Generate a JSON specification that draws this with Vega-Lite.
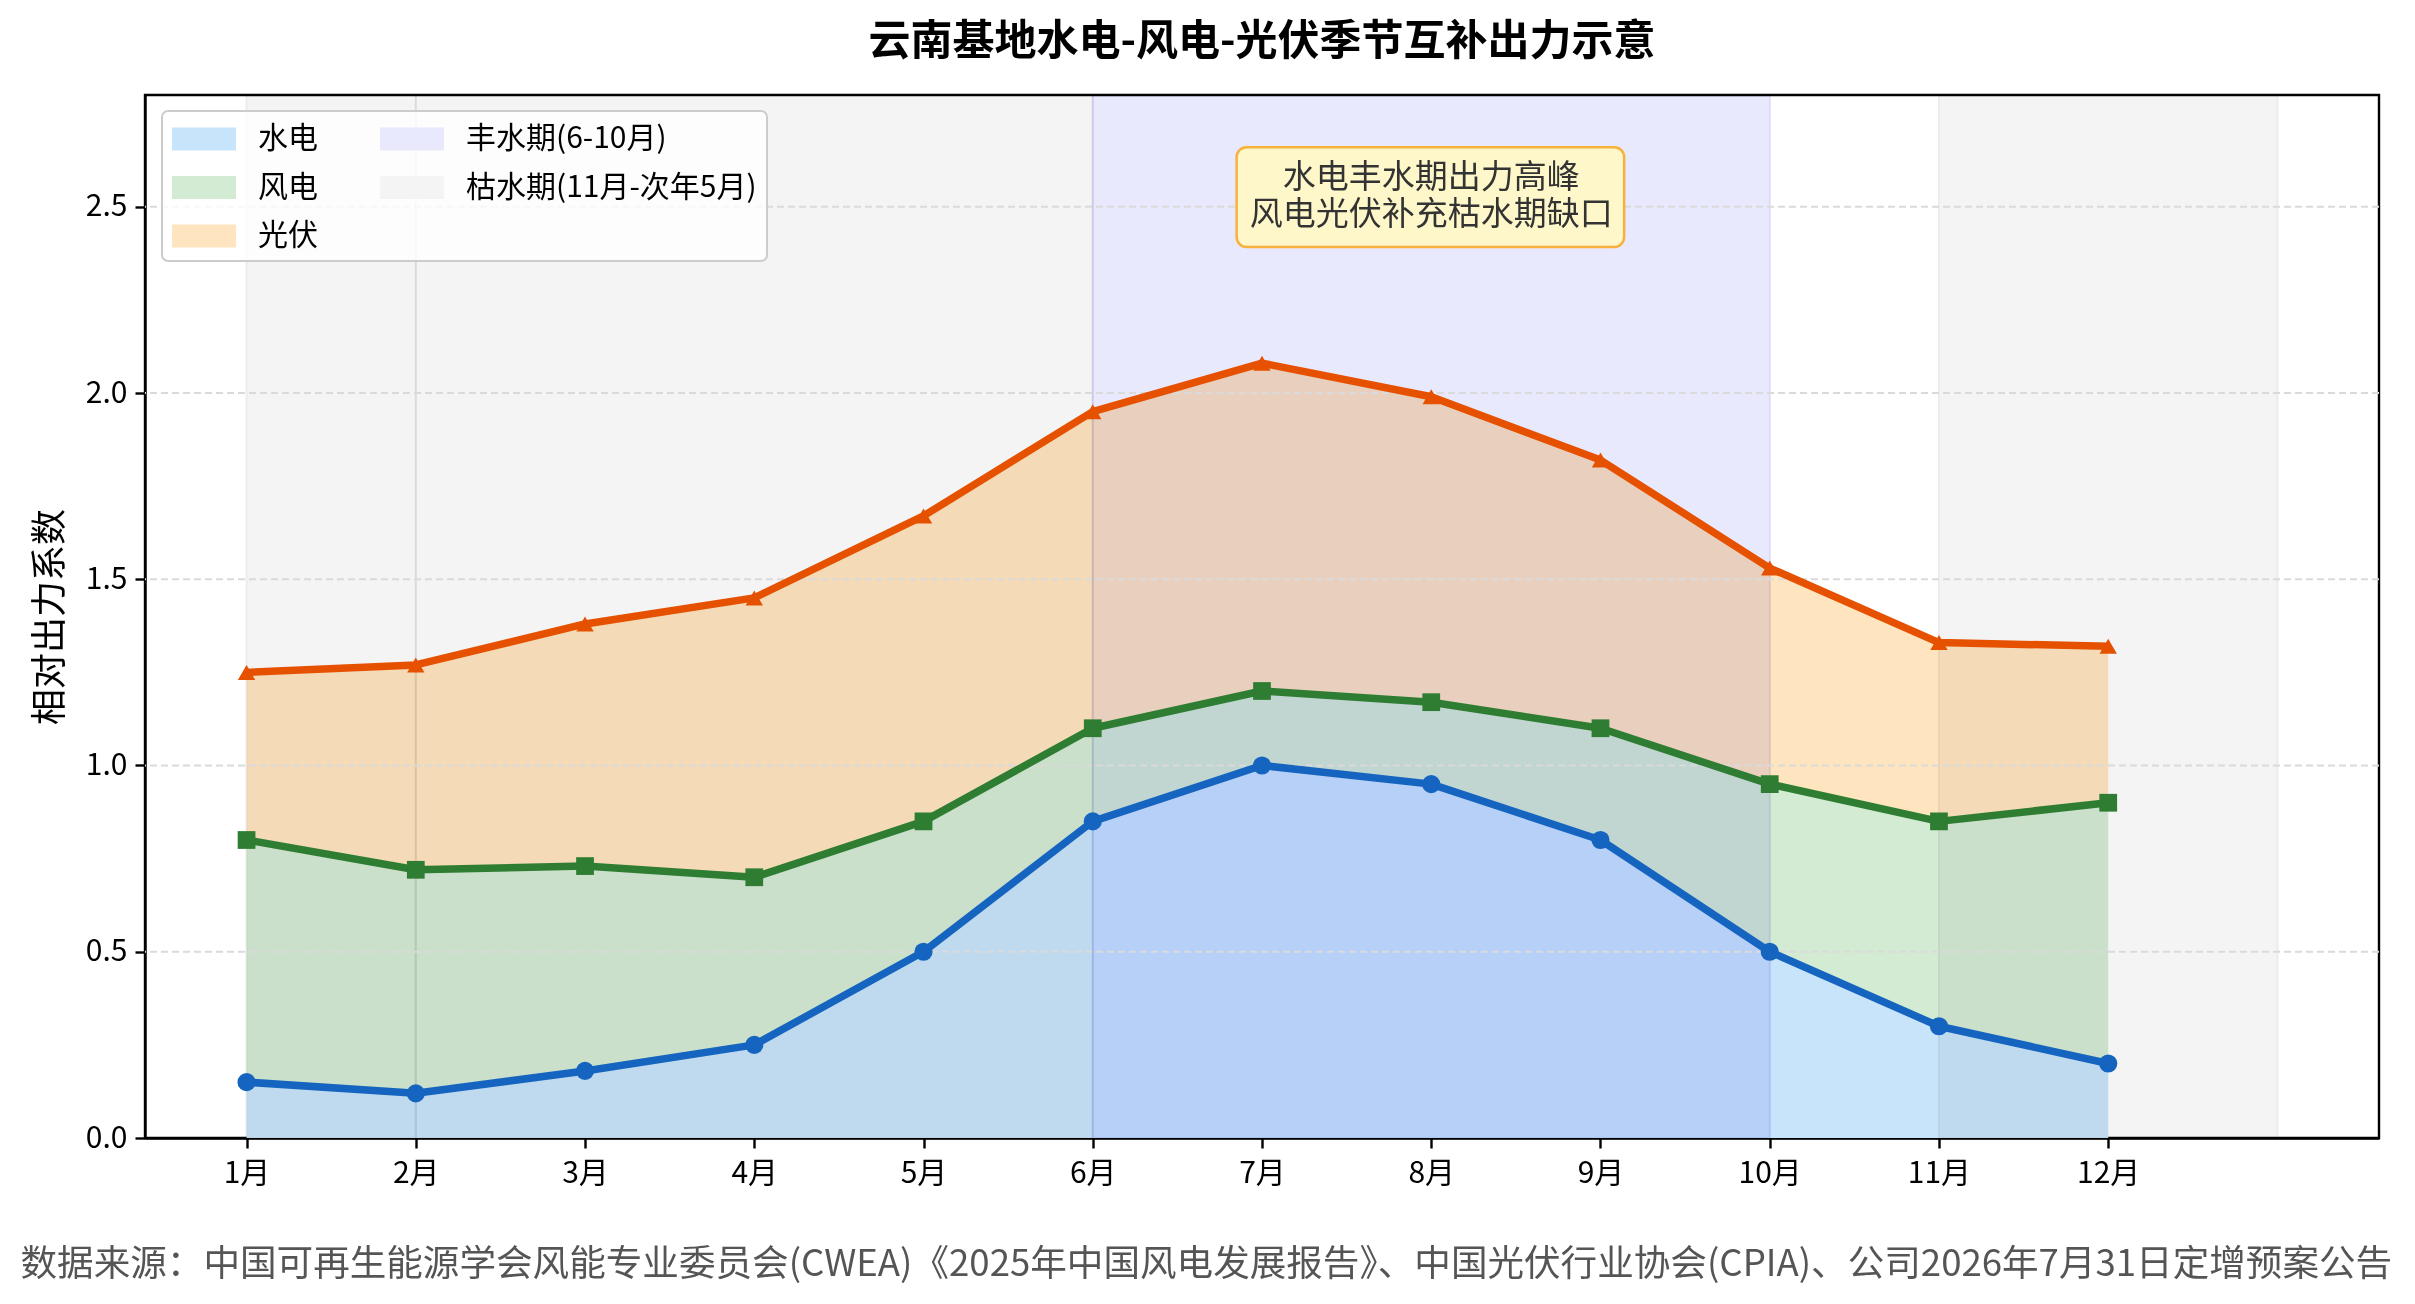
{
  "$schema": "https://vega.github.io/schema/vega-lite/v6.json",
  "description": "云南基地水电-风电-光伏季节互补出力示意",
  "width": 2234,
  "height": 1043,
  "autosize": {"type": "none"},
  "padding": {"left": 145, "top": 95, "right": 36, "bottom": 166},
  "background": "white",
  "title": {
    "text": "云南基地水电-风电-光伏季节互补出力示意",
    "fontSize": 42, "fontWeight": "bold", "color": "black",
    "anchor": "middle", "offset": 30
  },
  "datasets": {
    "出力": [
      {"月": 1, "水电": 0.15, "风电": 0.65, "光伏": 0.45},
      {"月": 2, "水电": 0.12, "风电": 0.60, "光伏": 0.55},
      {"月": 3, "水电": 0.18, "风电": 0.55, "光伏": 0.65},
      {"月": 4, "水电": 0.25, "风电": 0.45, "光伏": 0.75},
      {"月": 5, "水电": 0.50, "风电": 0.35, "光伏": 0.82},
      {"月": 6, "水电": 0.85, "风电": 0.25, "光伏": 0.85},
      {"月": 7, "水电": 1.00, "风电": 0.20, "光伏": 0.88},
      {"月": 8, "水电": 0.95, "风电": 0.22, "光伏": 0.82},
      {"月": 9, "水电": 0.80, "风电": 0.30, "光伏": 0.72},
      {"月": 10, "水电": 0.50, "风电": 0.45, "光伏": 0.58},
      {"月": 11, "水电": 0.30, "风电": 0.55, "光伏": 0.48},
      {"月": 12, "水电": 0.20, "风电": 0.70, "光伏": 0.42}
    ],
    "顺序": [
      {"能源": "水电", "层": 1},
      {"能源": "风电", "层": 2},
      {"能源": "光伏", "层": 3}
    ],
    "时期": [
      {"时期": "枯水期(11月-次年5月)", "起": 1, "止": 2},
      {"时期": "枯水期(11月-次年5月)", "起": 2, "止": 6},
      {"时期": "丰水期(6-10月)", "起": 6, "止": 10},
      {"时期": "枯水期(11月-次年5月)", "起": 11, "止": 13}
    ],
    "刻度": [
      {"值": 0.5}, {"值": 1.0}, {"值": 1.5}, {"值": 2.0}, {"值": 2.5}
    ]
  },
  "layer": [
    {
      "data": {"name": "出力"},
      "transform": [
        {"fold": ["水电", "风电", "光伏"], "as": ["能源", "出力"]},
        {"lookup": "能源", "from": {"data": {"name": "顺序"}, "key": "能源", "fields": ["层"]}},
        {"stack": "出力", "groupby": ["月"], "sort": [{"field": "层", "order": "ascending"}], "as": ["下", "上"]}
      ],
      "mark": {"type": "area", "opacity": 1},
      "encoding": {
        "x": {
          "field": "月", "type": "quantitative",
          "scale": {"domain": [0.4, 13.6], "nice": false, "zero": false},
          "axis": {
            "values": [1, 2, 3, 4, 5, 6, 7, 8, 9, 10, 11, 12],
            "labelExpr": "datum.value + '月'",
            "grid": false,
            "title": "数据来源：中国可再生能源学会风能专业委员会(CWEA)《2025年中国风电发展报告》、中国光伏行业协会(CPIA)、公司2026年7月31日定增预案公告",
            "titleFontSize": 36.6, "titleFontWeight": "normal", "titleColor": "#555555",
            "titleX": -125, "titleY": 126, "titleAlign": "left", "titleBaseline": "middle",
            "labelPadding": 10
          }
        },
        "y": {
          "field": "上", "type": "quantitative",
          "scale": {"domain": [0, 2.8], "nice": false},
          "axis": {
            "values": [0, 0.5, 1, 1.5, 2, 2.5],
            "format": ".1f",
            "title": "相对出力系数",
            "titleFontSize": 36, "titleFontWeight": "normal", "titleColor": "black",
            "titlePadding": 16,
            "grid": false
          }
        },
        "y2": {"field": "下"},
        "fill": {
          "field": "能源", "type": "nominal",
          "scale": {
            "domain": ["水电", "风电", "光伏", "丰水期(6-10月)", "枯水期(11月-次年5月)"],
            "range": ["#c8e4fa", "#d3ead3", "#ffe4c0", "#e9e9fd", "#f4f4f4"]
          },
          "legend": {"title": null, "orient": "none", "legendX": 17, "legendY": 16, "columns": 2}
        }
      }
    },
    {
      "data": {"name": "时期"},
      "mark": {"type": "rect", "blend": "multiply", "strokeWidth": 2},
      "encoding": {
        "x": {"field": "起", "type": "quantitative"},
        "x2": {"field": "止"},
        "fill": {"field": "时期", "type": "nominal", "legend": {"title": null, "orient": "none", "legendX": 17, "legendY": 16, "columns": 2}},
        "stroke": {
          "field": "时期", "type": "nominal",
          "scale": {"domain": ["丰水期(6-10月)", "枯水期(11月-次年5月)"], "range": ["#dcdcfa", "#ececec"]},
          "legend": null
        }
      }
    },
    {
      "data": {"name": "刻度"},
      "mark": {"type": "rule", "color": "#dadada", "strokeWidth": 2, "strokeDash": [7, 4]},
      "encoding": {
        "y": {"field": "值", "type": "quantitative"}
      }
    },
    {
      "data": {"name": "出力"},
      "transform": [
        {"fold": ["水电", "风电", "光伏"], "as": ["能源", "出力"]},
        {"lookup": "能源", "from": {"data": {"name": "顺序"}, "key": "能源", "fields": ["层"]}},
        {"stack": "出力", "groupby": ["月"], "sort": [{"field": "层", "order": "ascending"}], "as": ["下", "上"]}
      ],
      "mark": {"type": "line", "strokeWidth": 7.5, "strokeJoin": "round"},
      "encoding": {
        "x": {"field": "月", "type": "quantitative"},
        "y": {"field": "上", "type": "quantitative"},
        "color": {
          "field": "能源", "type": "nominal",
          "scale": {"domain": ["水电", "风电", "光伏"], "range": ["#1565C0", "#2E7D32", "#E65100"]},
          "legend": null
        }
      }
    },
    {
      "data": {"name": "出力"},
      "transform": [
        {"fold": ["水电", "风电", "光伏"], "as": ["能源", "出力"]},
        {"lookup": "能源", "from": {"data": {"name": "顺序"}, "key": "能源", "fields": ["层"]}},
        {"stack": "出力", "groupby": ["月"], "sort": [{"field": "层", "order": "ascending"}], "as": ["下", "上"]}
      ],
      "mark": {"type": "point", "filled": true, "opacity": 1},
      "encoding": {
        "x": {"field": "月", "type": "quantitative"},
        "y": {"field": "上", "type": "quantitative"},
        "color": {"field": "能源", "type": "nominal", "legend": null},
        "shape": {
          "field": "能源", "type": "nominal",
          "scale": {"domain": ["水电", "风电", "光伏"], "range": ["circle", "square", "triangle-up"]},
          "legend": null
        },
        "size": {
          "field": "能源", "type": "nominal",
          "scale": {"domain": ["水电", "风电", "光伏"], "range": [330, 300, 440]},
          "legend": null
        }
      }
    },
    {
      "data": {"values": [{}]},
      "mark": {"type": "rect", "fill": "#fdf7c9", "stroke": "#f7b13c", "strokeWidth": 2.5, "cornerRadius": 10},
      "encoding": {
        "x": {"datum": 6.85, "type": "quantitative"},
        "x2": {"datum": 9.14},
        "y": {"datum": 2.392, "type": "quantitative"},
        "y2": {"datum": 2.66}
      }
    },
    {
      "data": {"values": [{}]},
      "mark": {
        "type": "text",
        "text": ["水电丰水期出力高峰", "风电光伏补充枯水期缺口"],
        "fontSize": 33, "lineHeight": 36.5, "color": "#333333",
        "align": "center", "baseline": "middle"
      },
      "encoding": {
        "x": {"datum": 8, "type": "quantitative"},
        "y": {"datum": 2.577, "type": "quantitative"}
      }
    }
  ],
  "config": {
    "font": "Noto Sans CJK SC",
    "view": {"stroke": "black", "strokeWidth": 2.4},
    "axis": {
      "domainColor": "black", "domainWidth": 2.4,
      "tickColor": "black", "tickWidth": 2.4, "tickSize": 10,
      "labelFontSize": 30, "labelColor": "black", "labelPadding": 8,
      "labelFont": "Noto Sans CJK SC", "titleFont": "Noto Sans CJK SC"
    },
    "legend": {
      "labelFont": "Noto Sans CJK SC", "labelFontSize": 30, "labelColor": "black",
      "labelLimit": 0,
      "symbolType": "M-1,-0.64H2.556V0.64H-1Z",
      "symbolSize": 1296, "symbolStrokeWidth": 0, "symbolOpacity": 1,
      "labelOffset": 50, "rowPadding": 15.5, "columnPadding": 62,
      "padding": 10, "fillColor": "rgba(255,255,255,0.8)",
      "strokeColor": "#cccccc", "strokeWidth": 2, "cornerRadius": 6
    }
  }
}
